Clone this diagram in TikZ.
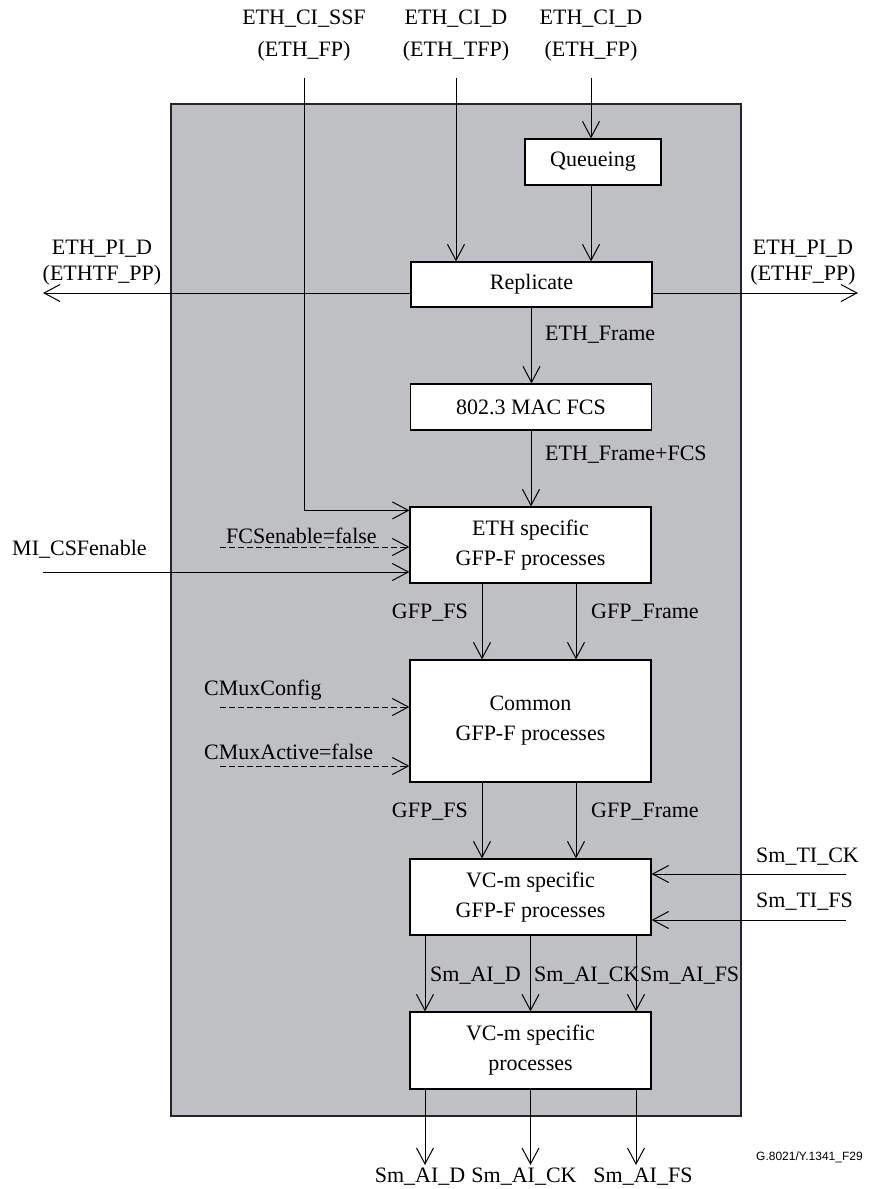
\documentclass[tikz,border=0pt]{standalone}
\usepackage{fontspec}
\setmainfont{Liberation Serif}
\newfontfamily\figidfont{Liberation Sans}
\usetikzlibrary{arrows.meta, positioning}
\definecolor{panelgray}{RGB}{191,192,196}

\begin{document}
\begin{tikzpicture}[x=1pt, y=-1pt,
  >={Straight Barb[length=16pt,width=17pt]},
  every node/.style={font=\fontsize{22}{30}\selectfont, inner sep=0pt},
  proc/.style={draw, fill=white, line width=1.2pt, minimum width=241pt, align=center},
  sig/.style={line width=1pt},
  ctl/.style={line width=1pt, dash pattern=on 6pt off 3pt},
  pin/.style={align=center, font=\fontsize{22}{32}\selectfont}]
  \useasboundingbox (0,0) rectangle (868,1189);

  % the function frame
  \draw[fill=panelgray, draw=black!85, line width=1.8pt] (171,104) rectangle (741,1116);

  % processes
  \node[proc, minimum width=136pt, minimum height=46pt] (queue) at (593,162) {Queueing};
  \node[proc, minimum height=45pt] (repl) at (531.5,284.5) {Replicate};
  \node[proc, minimum height=46pt] (fcs) at (531,407) {802.3 MAC FCS};
  \node[proc, minimum height=76pt] (ethgfp) at (530.5,545) {ETH specific\\GFP-F processes};
  \node[proc, minimum height=122pt] (comgfp) at (530.5,721) {Common\\GFP-F processes};
  \node[proc, minimum height=76pt] (vcgfp) at (530.5,897) {VC-m specific\\GFP-F processes};
  \node[proc, minimum height=77pt] (vcproc) at (530.5,1050.5) {VC-m specific\\processes};

  % inputs on top
  \node[pin] (ssf) at (304,36) {ETH\_CI\_SSF\\(ETH\_FP)};
  \node[pin] (tfp) at (456,36) {ETH\_CI\_D\\(ETH\_TFP)};
  \node[pin] (fp) at (591,36) {ETH\_CI\_D\\(ETH\_FP)};
  \coordinate (ssfin) at (304,78);
  \coordinate (tfpin) at (456,78);
  \coordinate (fpin) at (591,78);

  \path[draw, sig, ->] (ssfin) |- ([yshift=-4pt]ethgfp.north west);
  \path[draw, sig, ->] (tfpin) -- (tfpin |- repl.north);
  \path[draw, sig, ->] (fpin) -- (fpin |- queue.north);
  \path[draw, sig, ->] (fpin |- queue.south) -- (fpin |- repl.north);

  % replicated outputs
  \coordinate (pil) at (43,293);
  \coordinate (pir) at (858,293);
  \node[pin, font=\fontsize{22}{26}\selectfont] (pild) at (102,263) {ETH\_PI\_D\\(ETHTF\_PP)};
  \node[pin, font=\fontsize{22}{26}\selectfont] (pird) at (803,263) {ETH\_PI\_D\\(ETHF\_PP)};
  \path[draw, sig, ->] (repl.west |- pil) -- (pil);
  \path[draw, sig, ->] (repl.east |- pir) -- (pir);

  % frame path
  \path[draw, sig, ->] (repl.south) -- (repl.south |- fcs.north);
  \node[anchor=west] (ethframe) at (545,335) {ETH\_Frame};
  \path[draw, sig, ->] (fcs.south) -- (fcs.south |- ethgfp.north);
  \node[anchor=west] (ethfcs) at (545,455) {ETH\_Frame+FCS};

  % ETH specific inputs
  \node[anchor=west] (fcsen) at (226,536) {FCSenable=false};
  \coordinate (fcsenin) at (220,547);
  \path[draw, ctl, ->] (fcsenin) -- (fcsenin -| ethgfp.west);
  \node[anchor=west] (csf) at (12,549) {MI\_CSFenable};
  \coordinate (csfin) at (43,572);
  \path[draw, sig, ->] (csfin) -- (csfin -| ethgfp.west);

  \path[draw, sig, ->] ([xshift=-48.5pt]ethgfp.south) -- ([xshift=-48.5pt]comgfp.north);
  \path[draw, sig, ->] ([xshift=45.5pt]ethgfp.south) -- ([xshift=45.5pt]comgfp.north);
  \node[anchor=east] (fs1) at (468,613) {GFP\_FS};
  \node[anchor=west] (fr1) at (591,613) {GFP\_Frame};

  % common inputs
  \node[anchor=west] (cmcfg) at (204,690) {CMuxConfig};
  \coordinate (cmcfgin) at (220,707);
  \path[draw, ctl, ->] (cmcfgin) -- (cmcfgin -| comgfp.west);
  \node[anchor=west] (cmact) at (204,752) {CMuxActive=false};
  \coordinate (cmactin) at (220,766);
  \path[draw, ctl, ->] (cmactin) -- (cmactin -| comgfp.west);

  \path[draw, sig, ->] ([xshift=-48.5pt]comgfp.south) -- ([xshift=-48.5pt]vcgfp.north);
  \path[draw, sig, ->] ([xshift=45.5pt]comgfp.south) -- ([xshift=45.5pt]vcgfp.north);
  \node[anchor=east] (fs2) at (468,812) {GFP\_FS};
  \node[anchor=west] (fr2) at (591,812) {GFP\_Frame};

  % timing inputs
  \node[anchor=west] (tick) at (756,857) {Sm\_TI\_CK};
  \coordinate (tickin) at (846,874);
  \path[draw, sig, ->] (tickin) -- (tickin -| vcgfp.east);
  \node[anchor=west] (tifs) at (756,902) {Sm\_TI\_FS};
  \coordinate (tifsin) at (846,920);
  \path[draw, sig, ->] (tifsin) -- (tifsin -| vcgfp.east);

  % adapted information
  \path[draw, sig, ->] ([xshift=-105.5pt]vcgfp.south) -- ([xshift=-105.5pt]vcproc.north);
  \path[draw, sig, ->] (vcgfp.south) -- (vcproc.north);
  \path[draw, sig, ->] ([xshift=105.5pt]vcgfp.south) -- ([xshift=105.5pt]vcproc.north);
  \node[anchor=west] (aid1) at (430,976) {Sm\_AI\_D};
  \node[anchor=west] (aick1) at (534,976) {Sm\_AI\_CK};
  \node[anchor=west] (aifs1) at (640,976) {Sm\_AI\_FS};

  \coordinate (aidout) at (425,1165);
  \coordinate (aickout) at (530.5,1165);
  \coordinate (aifsout) at (636,1165);
  \path[draw, sig, ->] (aidout |- vcproc.south) -- (aidout);
  \path[draw, sig, ->] (aickout |- vcproc.south) -- (aickout);
  \path[draw, sig, ->] (aifsout |- vcproc.south) -- (aifsout);
  \node (aid2) at (420,1177) {Sm\_AI\_D};
  \node (aick2) at (524,1177) {Sm\_AI\_CK};
  \node (aifs2) at (643,1177) {Sm\_AI\_FS};

  \node[anchor=west, font=\figidfont\fontsize{12}{14}\selectfont] (figid) at (756,1157) {G.8021/Y.1341\_F29};
\end{tikzpicture}
\end{document}
